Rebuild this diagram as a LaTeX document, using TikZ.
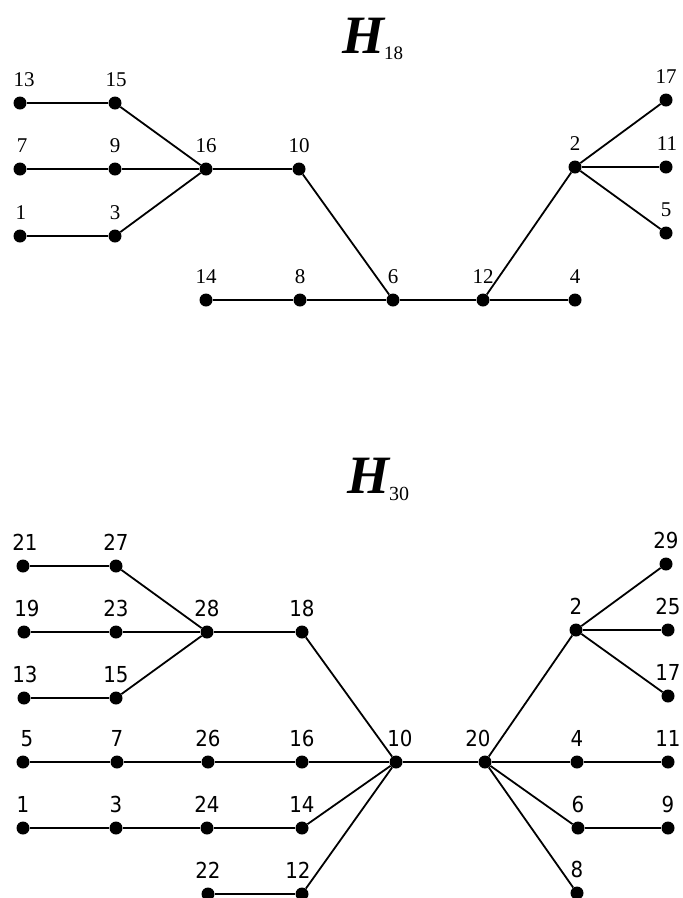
\documentclass[tikz,border=0pt]{standalone}
\usepackage{fontspec}
\setmainfont{Liberation Serif}
\newfontfamily\numsans{DejaVu Sans Condensed}
\usepackage{tikz}

\begin{document}
\begin{tikzpicture}[x=1pt,y=-1pt,
  vx/.style={circle, fill=black, inner sep=0pt, minimum size=13pt},
  edge/.style={line width=1.8pt},
  serifnum/.style={font=\fontsize{21}{21}\selectfont, anchor=base, inner sep=0pt},
  sansnum/.style={font=\numsans\fontsize{22}{22}\selectfont, anchor=base, inner sep=0pt},
  ttl/.style={anchor=base west, inner sep=0pt, font=\fontsize{54}{54}\selectfont\bfseries\itshape}]
  \useasboundingbox (0,0) rectangle (683,898);
  % H_18 title
  \node[ttl] (tA) at (342,53) {H\raisebox{-6pt}{\normalfont\fontsize{19}{19}\selectfont 18}};
  % H_18 vertices + labels
  \foreach \n/\x/\y/\d in {13/20/103/4, 15/115/103/1, 7/20/169/2, 9/115/169/0, 16/206/169/0,
      10/299/169/0, 1/20/236/1, 3/115/236/0, 14/206/300/0, 8/300/300/0, 6/393/300/0,
      12/483/300/0, 4/575/300/0, 2/575/167/0, 17/666/100/0, 11/666/167/1, 5/666/233/0} {
    \node[vx] (a\n) at (\x,\y) {};
    \node[serifnum] (la\n) at (\x+\d,\y-17) {\n};
  }
  % H_18 edges
  \foreach \u/\v in {13/15, 15/16, 7/9, 9/16, 1/3, 3/16, 16/10, 10/6, 14/8, 8/6,
      6/12, 12/4, 12/2, 2/17, 2/11, 2/5}
    \draw[edge] (a\u) -- (a\v);
  % H_30 title
  \node[ttl] (tB) at (347,493) {H\raisebox{-7pt}{\normalfont\fontsize{20}{20}\selectfont 30}};
  % H_30 vertices + labels
  \foreach \n/\x/\y/\d in {21/23/566/2, 27/116/566/0, 19/24/632/3, 23/116/632/0, 28/207/632/0,
      18/302/632/0, 13/24/698/1, 15/116/698/0, 5/23/762/4, 7/117/762/0, 26/208/762/0,
      16/302/762/0, 10/396/762/4, 20/485/762/-7, 4/577/762/0, 11/668/762/0, 1/23/828/0,
      3/116/828/0, 24/207/828/0, 14/302/828/0, 6/578/828/0, 9/668/828/0, 22/208/894/0,
      12/302/894/-4, 8/577/893/0, 2/576/630/0, 29/666/564/0, 25/668/630/0, 17/668/696/0} {
    \node[vx] (b\n) at (\x,\y) {};
    \node[sansnum] (lb\n) at (\x+\d,\y-16) {\n};
  }
  % H_30 edges
  \foreach \u/\v in {21/27, 27/28, 19/23, 23/28, 13/15, 15/28, 28/18, 18/10, 5/7, 7/26,
      26/16, 16/10, 1/3, 3/24, 24/14, 14/10, 22/12, 12/10, 10/20, 20/2, 2/29, 2/25,
      2/17, 20/4, 4/11, 20/6, 6/9, 20/8}
    \draw[edge] (b\u) -- (b\v);
\end{tikzpicture}
\end{document}
